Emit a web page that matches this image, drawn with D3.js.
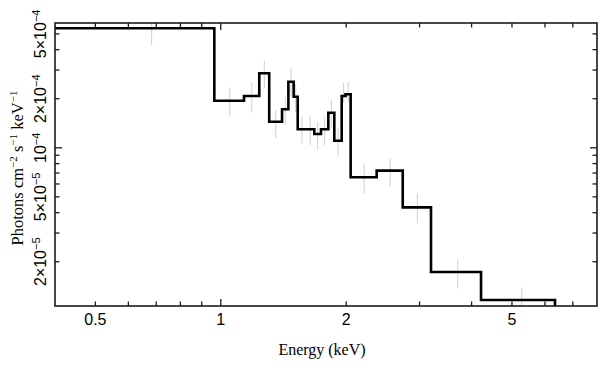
<!DOCTYPE html>
<html>
<head>
<meta charset="utf-8">
<script src="https://cdn.jsdelivr.net/npm/d3@7"></script>
<style>
  html, body { margin: 0; padding: 0; background: #ffffff; }
  svg { display: block; }
</style>
</head>
<body>
<svg id="chart" width="608" height="368"></svg>
<script>
// ---- data ----
const binEdges = [0.4, 0.965, 1.137, 1.237, 1.307, 1.403, 1.453, 1.496, 1.530, 1.602, 1.677,
                  1.740, 1.812, 1.873, 1.951, 1.993, 2.050, 2.367, 2.734, 3.196, 4.214, 6.343];
const fluxValues = [5.41e-4, 1.945e-4, 2.078e-4, 2.865e-4, 1.446e-4, 1.723e-4, 2.544e-4, 2.058e-4,
                    1.299e-4, 1.299e-4, 1.215e-4, 1.299e-4, 1.642e-4, 1.105e-4, 2.078e-4, 2.129e-4,
                    6.59e-5, 7.24e-5, 4.31e-5, 1.73e-5, 1.165e-5];
const errLow = [4.27e-4, 1.567e-4, 1.642e-4, 2.32e-4, 1.144e-4, 1.38e-4, 2.078e-4, 1.658e-4,
                1.066e-4, 1.040e-4, 9.69e-5, 1.040e-4, 1.317e-4, 8.82e-5, 1.875e-4, 1.918e-4,
                5.26e-5, 5.77e-5, 3.44e-5, 1.374e-5, 9.5e-6];
const errHigh = [6.55e-4, 2.35e-4, 2.51e-4, 3.41e-4, 1.706e-4, 2.058e-4, 3.09e-4, 2.46e-4,
                 1.551e-4, 1.551e-4, 1.446e-4, 1.551e-4, 1.965e-4, 1.317e-4, 2.51e-4, 2.544e-4,
                 8.03e-5, 8.62e-5, 5.26e-5, 2.07e-5, 1.386e-5];
const xDomain = [0.4, 8.0];
const yDomain = [1.07e-5, 5.83e-4];
const xTickLabels = [0.5, 1, 2, 5];
const xMinorTicks = [0.4, 0.5, 0.6, 0.7, 0.8, 0.9, 1, 2, 3, 4, 5, 6, 7, 8];
const xMajorTicks = [1];
const yLabelTicks = [
  {v: 2e-5, m: "2×10", e: "−5"},
  {v: 5e-5, m: "5×10", e: "−5"},
  {v: 1e-4, m: "10", e: "−4"},
  {v: 2e-4, m: "2×10", e: "−4"},
  {v: 5e-4, m: "5×10", e: "−4"}
];
const yMinorTicks = [2e-5, 3e-5, 4e-5, 5e-5, 6e-5, 7e-5, 8e-5, 9e-5, 1e-4, 2e-4, 3e-4, 4e-4, 5e-4];
const yMajorTicks = [1e-4];

// ---- layout ----
const L = 55, R = 597, T = 23, B = 306;
const svg = d3.select("#chart");
const x = d3.scaleLog().domain(xDomain).range([L, R]);
const y = d3.scaleLog().domain(yDomain).range([B, T]);

svg.append("defs").append("clipPath").attr("id", "plotclip")
  .append("rect").attr("x", L).attr("y", T).attr("width", R - L).attr("height", B - T);

const plot = svg.append("g").attr("clip-path", "url(#plotclip)");

// error bars (at linear bin centre)
const bins = fluxValues.map((v, i) => ({
  lo: binEdges[i], hi: binEdges[i + 1], v, el: errLow[i], eh: errHigh[i]
}));
plot.selectAll("line.err").data(bins).enter().append("line")
  .attr("class", "err")
  .attr("x1", d => x((d.lo + d.hi) / 2)).attr("x2", d => x((d.lo + d.hi) / 2))
  .attr("y1", d => y(d.el)).attr("y2", d => y(d.eh))
  .attr("stroke", "#cfcfcf").attr("stroke-width", 1);

// step histogram
const pts = bins.map(d => [d.lo, d.v]);
pts.push([binEdges[binEdges.length - 1], fluxValues[fluxValues.length - 1]]);
pts.push([binEdges[binEdges.length - 1], yDomain[0] * 0.8]);
const line = d3.line().x(d => x(d[0])).y(d => y(d[1])).curve(d3.curveStepAfter);
plot.append("path").attr("d", line(pts))
  .attr("fill", "none").attr("stroke", "#000").attr("stroke-width", 2.6)
  .attr("stroke-linejoin", "miter");

// frame
const axisColor = "#1a1a1a";
svg.append("rect").attr("x", L).attr("y", T).attr("width", R - L).attr("height", B - T)
  .attr("fill", "none").attr("stroke", axisColor).attr("stroke-width", 1.6);

// ticks
const tg = svg.append("g").attr("stroke", axisColor).attr("stroke-width", 1.3);
xMinorTicks.forEach(t => {
  const len = xMajorTicks.includes(t) ? 7 : 4.5;
  const px = x(t);
  if (px <= L + 0.5 || px >= R - 0.5) return;
  tg.append("line").attr("x1", px).attr("x2", px).attr("y1", B).attr("y2", B - len);
  tg.append("line").attr("x1", px).attr("x2", px).attr("y1", T).attr("y2", T + len);
});
yMinorTicks.forEach(t => {
  const len = yMajorTicks.includes(t) ? 7 : 4.5;
  const py = y(t);
  if (py <= T + 0.5 || py >= B - 0.5) return;
  tg.append("line").attr("x1", L).attr("x2", L + len).attr("y1", py).attr("y2", py);
  tg.append("line").attr("x1", R).attr("x2", R - len).attr("y1", py).attr("y2", py);
});

// x tick labels
const sans = "'Liberation Sans', Arial, Helvetica, sans-serif";
const serif = "'Liberation Serif', 'Times New Roman', serif";
svg.append("g").selectAll("text").data(xTickLabels).enter().append("text")
  .attr("x", d => x(d)).attr("y", 324.5)
  .attr("text-anchor", "middle")
  .attr("font-family", sans).attr("font-size", 16).attr("fill", "#000")
  .text(d => d);

// y tick labels (rotated)
yLabelTicks.forEach(t => {
  const txt = svg.append("text")
    .attr("transform", `translate(46,${y(t.v)}) rotate(-90)`)
    .attr("text-anchor", "middle")
    .attr("font-family", sans).attr("font-size", 16).attr("fill", "#000");
  txt.append("tspan").text(t.m);
  txt.append("tspan").attr("font-size", 11).attr("dy", -6).text(t.e);
});

// axis titles
svg.append("text").attr("x", 322).attr("y", 355)
  .attr("text-anchor", "middle").attr("font-family", serif).attr("font-size", 16)
  .attr("fill", "#000").text("Energy (keV)");

const yt = svg.append("text")
  .attr("transform", `translate(23,168) rotate(-90)`)
  .attr("text-anchor", "middle").attr("font-family", serif).attr("font-size", 16.5)
  .attr("fill", "#000");
yt.append("tspan").text("Photons cm");
yt.append("tspan").attr("font-size", 11).attr("dy", -6).text("−2");
yt.append("tspan").attr("dy", 6).text(" s");
yt.append("tspan").attr("font-size", 11).attr("dy", -6).text("−1");
yt.append("tspan").attr("dy", 6).text(" keV");
yt.append("tspan").attr("font-size", 11).attr("dy", -6).text("−1");
</script>
</body>
</html>
